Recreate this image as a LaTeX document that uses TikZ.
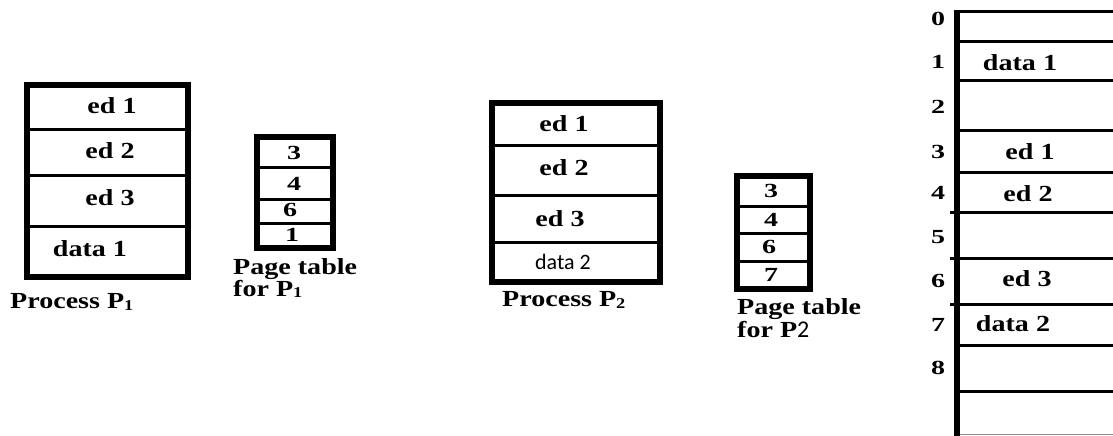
\documentclass[tikz,border=0pt]{standalone}
\usepackage{graphicx}
\usepackage{fontspec}
\setmainfont{Liberation Serif}
\newfontfamily\calfont{Carlito}
% bold serif labels are set wide
\newcommand{\wtxt}[1]{\scalebox{1.22}[1]{#1}}
\newcommand{\wnum}[1]{\scalebox{1.4}[1]{#1}}
\newcommand{\subnum}[1]{{\fontsize{15}{15}\selectfont\raisebox{-1.5pt}{#1}}}
\tikzset{
  outer/.style={line width=5.5pt},
  inner/.style={line width=3pt},
  lbl/.style={inner sep=0pt, font=\fontsize{23}{23}\selectfont\bfseries},
  ptnum/.style={inner sep=0pt, font=\fontsize{20}{20}\selectfont\bfseries},
  caption/.style={inner sep=0pt, anchor=west, align=left, font=\fontsize{23}{20}\selectfont\bfseries},
  sanslbl/.style={inner sep=0pt, font=\fontsize{22}{22}\selectfont\calfont}
}
\begin{document}
\begin{tikzpicture}[x=1pt,y=-1pt]
\useasboundingbox (0,0) rectangle (1113,436);

% ---- Process P1 ----
\foreach \yy in {129,175,226} \draw[inner] (27,\yy) -- (188,\yy);
\draw[outer] (27,85) rectangle (188,277);
\node[lbl] (p1r1) at (112,106) {\wtxt{ed 1}};
\node[lbl] (p1r2) at (110,151) {\wtxt{ed 2}};
\node[lbl] (p1r3) at (110,198) {\wtxt{ed 3}};
\node[lbl] (p1r4) at (90,249) {\wtxt{data 1}};
\node[caption] (p1cap) at (10,302) {\wtxt{Process P\subnum{1}}};

% ---- Page table for P1 ----
\foreach \yy in {167,199,223} \draw[inner] (257,\yy) -- (333,\yy);
\draw[outer] (257,137) rectangle (333,248);
\node[ptnum] (t1a) at (294,153) {\wnum{3}};
\node[ptnum] (t1b) at (294,184) {\wnum{4}};
\node[ptnum] (t1c) at (290,210) {\wnum{6}};
\node[ptnum] (t1d) at (292,235) {\wnum{1}};
\node[caption] (t1cap) at (233,278) {\wtxt{Page table}\\\wtxt{for P\subnum{1}}};

% ---- Process P2 ----
\foreach \yy in {145,195,242} \draw[inner] (492,\yy) -- (660,\yy);
\draw[inner] (660,145) -- (663,145);
\draw[outer] (492,103) rectangle (660,282);
\node[lbl] (p2r1) at (564,124) {\wtxt{ed 1}};
\node[lbl] (p2r2) at (564,168) {\wtxt{ed 2}};
\node[lbl] (p2r3) at (560,219) {\wtxt{ed 3}};
\node[sanslbl] (p2r4) at (563,262) {data 2};
\node[caption] (p2cap) at (502,300) {\wtxt{Process P\subnum{2}}};

% ---- Page table for P2 ----
\foreach \yy in {206,233,261} \draw[inner] (737,\yy) -- (810,\yy);
\draw[outer] (737,176) rectangle (810,289);
\node[ptnum] (t2a) at (771,191) {\wnum{3}};
\node[ptnum] (t2b) at (771,220) {\wnum{4}};
\node[ptnum] (t2c) at (769,247) {\wnum{6}};
\node[ptnum] (t2d) at (771,275) {\wnum{7}};
\node[caption, font=\fontsize{23}{19}\selectfont\bfseries] (t2cap) at (737,318) {\wtxt{Page table}\\\wtxt{for P}{\fontsize{24}{19}\selectfont\calfont\mdseries 2}};

% ---- Physical memory frames ----
\foreach \yy in {12,42,80,130,172,345,391} \draw[inner] (957,\yy) -- (1120,\yy);
\foreach \yy in {212,258,304} \draw[inner] (950,\yy) -- (1120,\yy);
\draw[line width=1pt, black!45] (957,434) -- (1120,434);
\draw[line width=5.5pt] (957,10) -- (957,440);
\foreach \n/\yy in {0/19,1/62,2/107,3/152,4/193,5/237,6/281,7/325,8/368}
  \node[ptnum] (f\n) at (938,\yy) {\wnum{\n}};
\node[lbl] (m1) at (1020,63) {\wtxt{data 1}};
\node[lbl] (m3) at (1030,152) {\wtxt{ed 1}};
\node[lbl] (m4) at (1028,194) {\wtxt{ed 2}};
\node[lbl] (m6) at (1027,279) {\wtxt{ed 3}};
\node[lbl] (m7) at (1013,324) {\wtxt{data 2}};
\end{tikzpicture}
\end{document}
